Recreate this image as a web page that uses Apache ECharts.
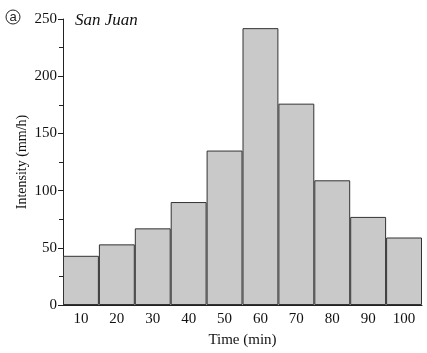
<!DOCTYPE html>
<html>
<head>
<meta charset="utf-8">
<script src="https://cdn.jsdelivr.net/npm/echarts@6/dist/echarts.min.js"></script>
<style>
  html, body { margin: 0; padding: 0; background: #fff; }
  #chart { width: 427px; height: 353px; }
</style>
</head>
<body>
<div id="chart"></div>
<script>
const times = ['10', '20', '30', '40', '50', '60', '70', '80', '90', '100'];
const intensity = [43, 53, 67, 90, 135, 242, 176, 109, 77, 59];
const yTicks = [0, 50, 100, 150, 200, 250];

const serif = '"Liberation Serif", "DejaVu Serif", serif';
const chart = echarts.init(document.getElementById('chart'));
chart.setOption({
  backgroundColor: '#fff',
  animation: false,
  grid: { left: 63, right: 5, top: 19, bottom: 45 },
  graphic: [
    { type: 'circle', shape: { cx: 13, cy: 17, r: 7 }, style: { fill: 'none', stroke: '#222', lineWidth: 1 } },
    { type: 'text', x: 13, y: 17, style: { text: 'a', font: '13px "Liberation Sans", sans-serif', fill: '#222', align: 'center', verticalAlign: 'middle' } },
    { type: 'text', left: 75, top: 12, style: { text: 'San Juan', font: 'italic 17px ' + serif, fill: '#111' } }
  ],
  xAxis: {
    type: 'category',
    data: times,
    name: 'Time (min)',
    nameLocation: 'middle',
    nameGap: 28,
    nameTextStyle: { fontFamily: serif, fontSize: 15, color: '#111' },
    axisLine: { lineStyle: { color: '#222', width: 1 } },
    axisTick: { alignWithLabel: true, length: 5, lineStyle: { color: '#222' } },
    axisLabel: { fontFamily: serif, fontSize: 15, color: '#111', margin: 7 }
  },
  yAxis: {
    type: 'value',
    min: yTicks[0],
    max: yTicks[yTicks.length - 1],
    interval: 50,
    name: 'Intensity (mm/h)',
    nameLocation: 'middle',
    nameGap: 34,
    nameMoveOverlap: false,
    nameTextStyle: { fontFamily: serif, fontSize: 14, color: '#111' },
    axisLine: { show: true, lineStyle: { color: '#222', width: 1 } },
    axisTick: { show: true, length: 5, lineStyle: { color: '#222' } },
    minorTick: { show: true, splitNumber: 2, length: 4, lineStyle: { color: '#222' } },
    axisLabel: { fontFamily: serif, fontSize: 15, color: '#111', margin: 6 },
    splitLine: { show: false }
  },
  series: [{
    type: 'bar',
    data: intensity,
    barCategoryGap: 0,
    itemStyle: { color: '#c9c9c9', borderColor: '#333', borderWidth: 1 }
  }]
});
</script>
</body>
</html>
